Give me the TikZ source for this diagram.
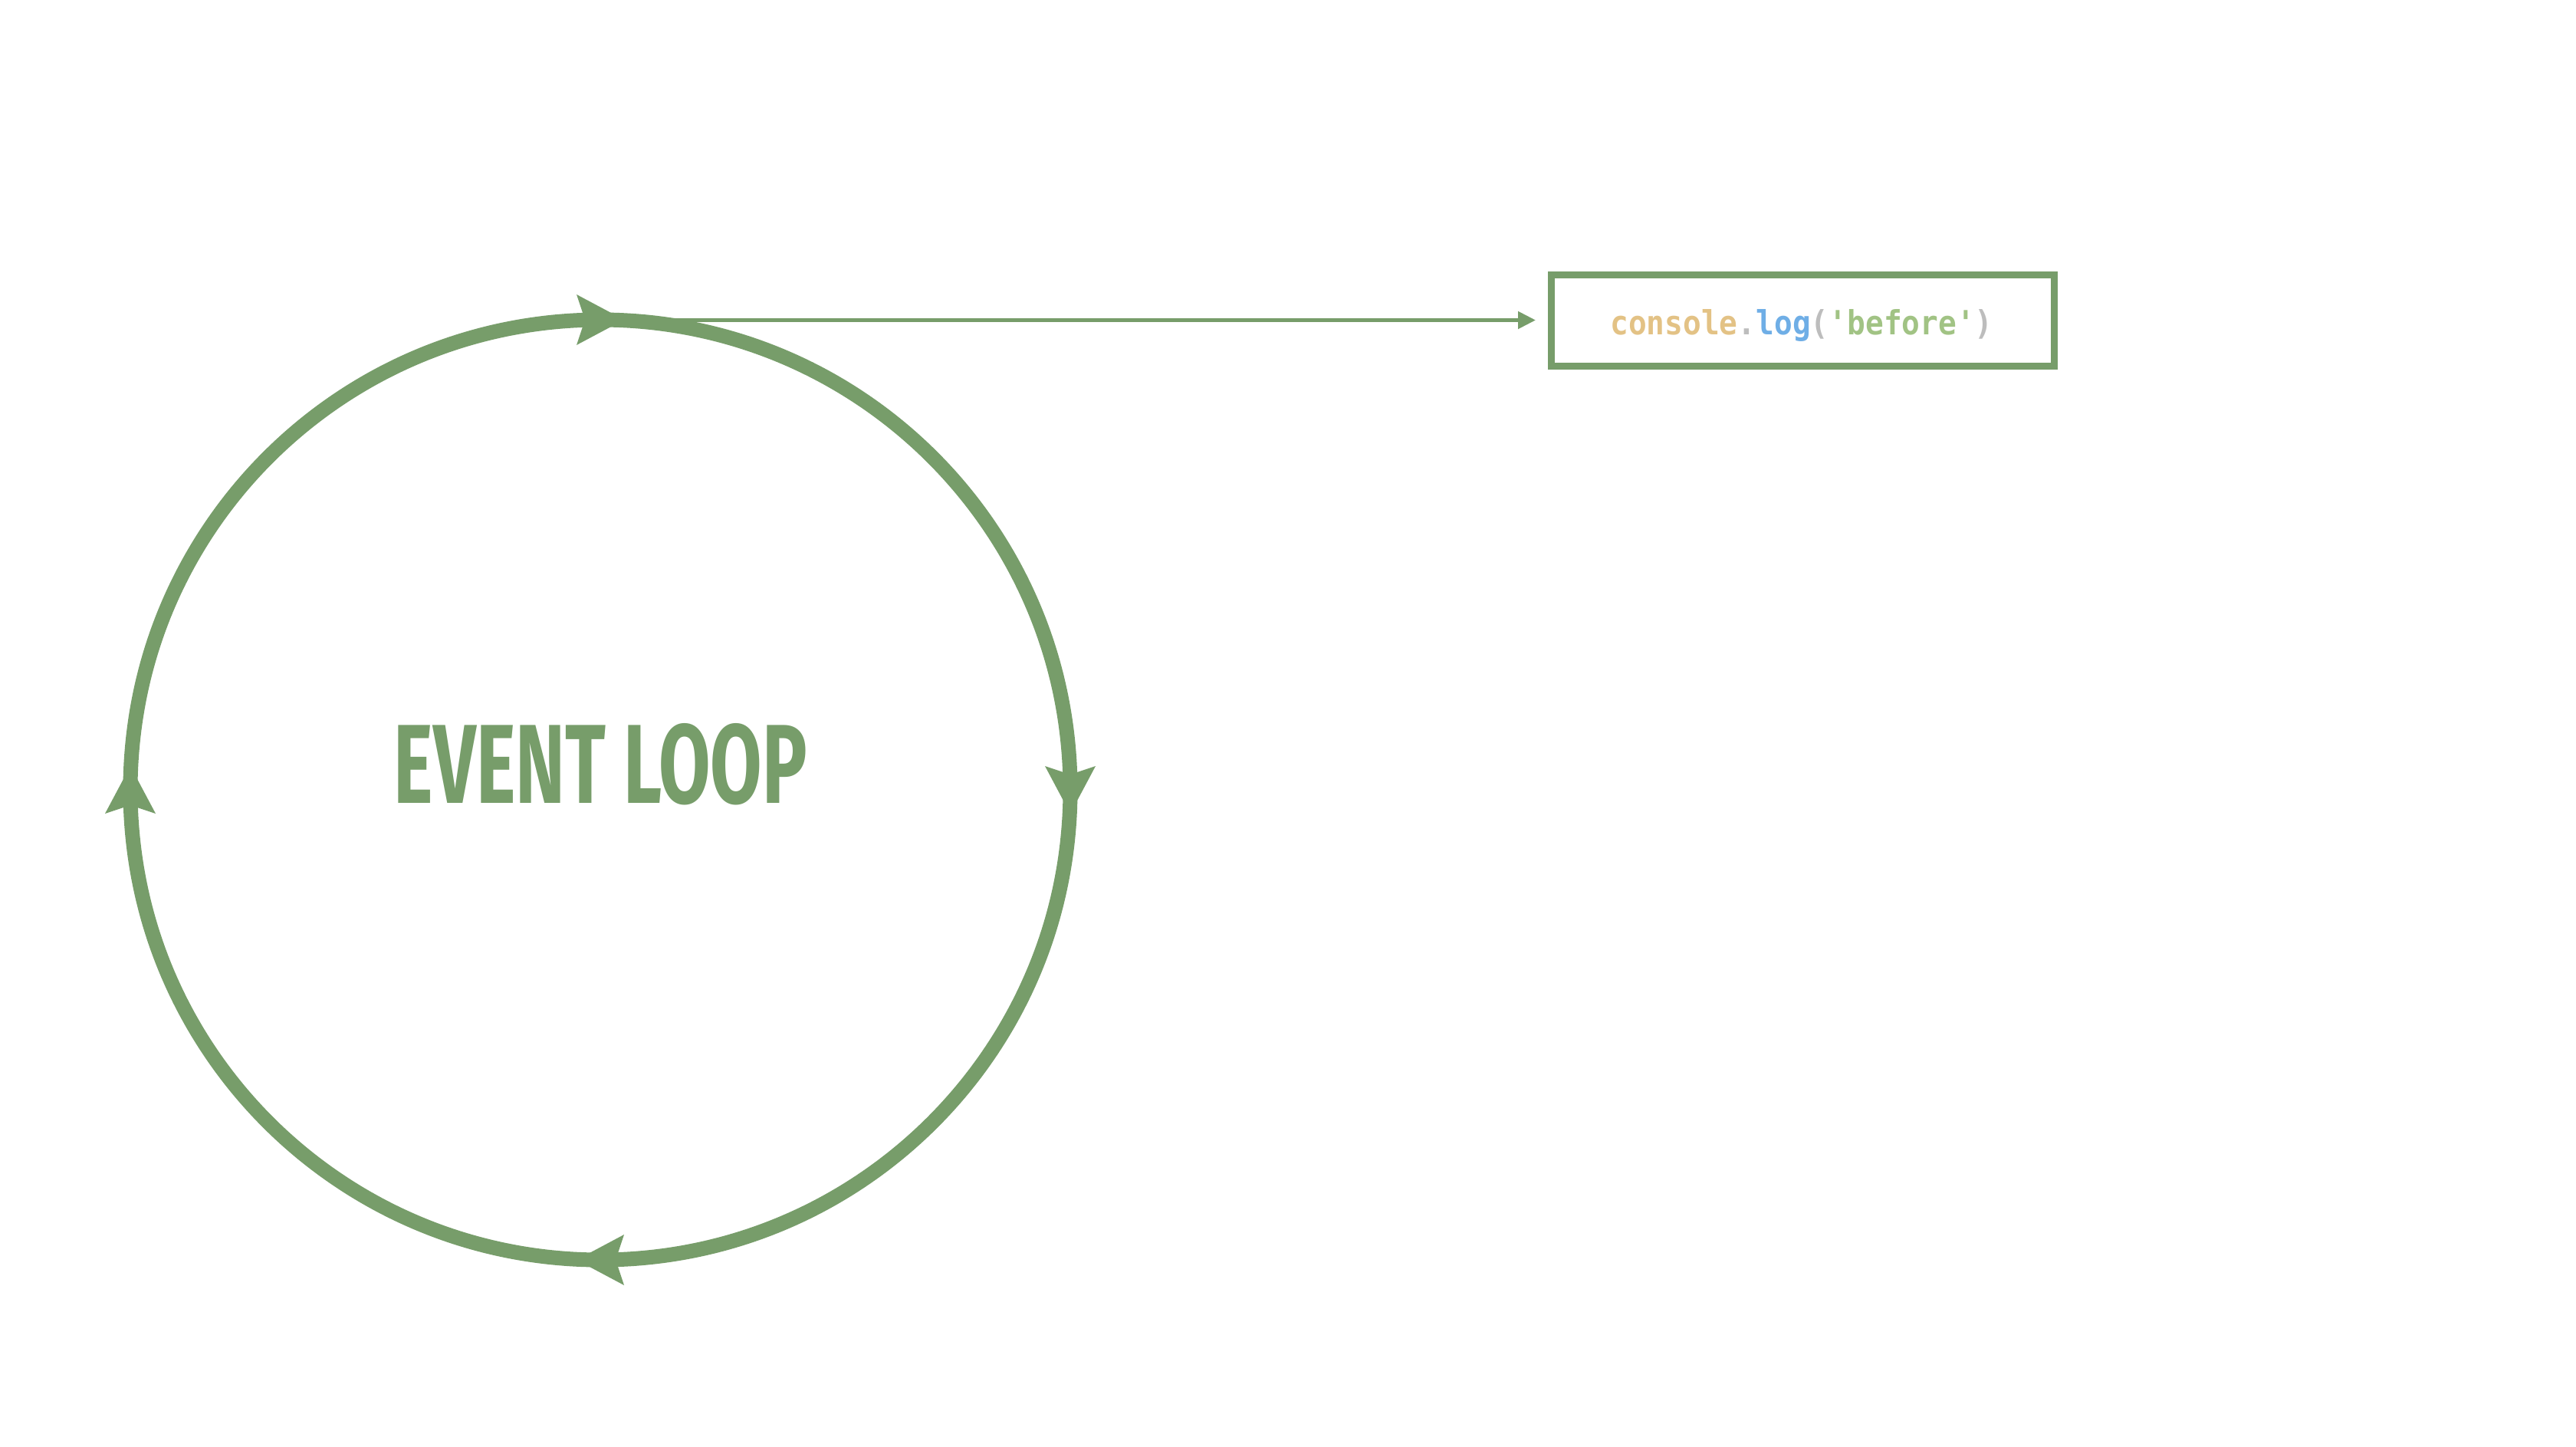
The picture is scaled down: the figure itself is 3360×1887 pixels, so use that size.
\documentclass[tikz,border=0pt]{standalone}
\usepackage{fontspec}
\usepackage{graphicx}
\usetikzlibrary{arrows.meta}
\newfontfamily\evfont{Fira Sans}
\setmonofont{DejaVu Sans Mono}
\definecolor{eg}{HTML}{779D6A}
\definecolor{ctan}{HTML}{E3C285}
\definecolor{cgray}{HTML}{BDBDBD}
\definecolor{cblue}{HTML}{6FAEE6}
\definecolor{cgreen}{HTML}{A1C384}
\begin{document}
\begin{tikzpicture}[x=1pt,y=-1pt,
  loopline/.style={draw=eg,line width=19pt},
  headshape/.style={fill=eg},
  codebox/.style={draw=eg,line width=9pt,minimum width=656pt,minimum height=119pt,inner sep=0pt},
  linkline/.style={draw=eg,line width=5pt,-{Triangle[length=23pt,width=22pt]},shorten >=16pt}]
\useasboundingbox[fill=white] (0,0) rectangle (3360,1887);
\coordinate (c) at (783,1030);
\coordinate (top) at (783,417.5);
\draw[loopline] (c) circle[radius=613pt];
% arrow heads (clockwise)
\fill[headshape] (814,417) -- (752,384) -- (763,417) -- (752,450) -- cycle;
\fill[headshape] (1396,1061) -- (1363,999) -- (1396,1010) -- (1429,999) -- cycle;
\fill[headshape] (752,1643) -- (814,1610) -- (803,1643) -- (814,1676) -- cycle;
\fill[headshape] (170,999) -- (137,1061) -- (170,1050) -- (203,1061) -- cycle;
% title
\node[inner sep=0pt,text=eg] (title) at (783.5,997) {\resizebox{539pt}{104pt}{\evfont\bfseries EVENT LOOP}};
% code box
\node[codebox] (box) at (2351.5,417.5) {};
\node[anchor=base,inner sep=0pt] (code) at (2350,436) {\scalebox{1}[1.1]{\ttfamily\bfseries\fontsize{39.5}{40}\selectfont{\color{ctan}console}{\color{cgray}.}{\color{cblue}log}{\color{cgray}(}{\color{cgreen}'before'}{\color{cgray})}}};
\draw[linkline] (top) -- (box.west);
\end{tikzpicture}
\end{document}
